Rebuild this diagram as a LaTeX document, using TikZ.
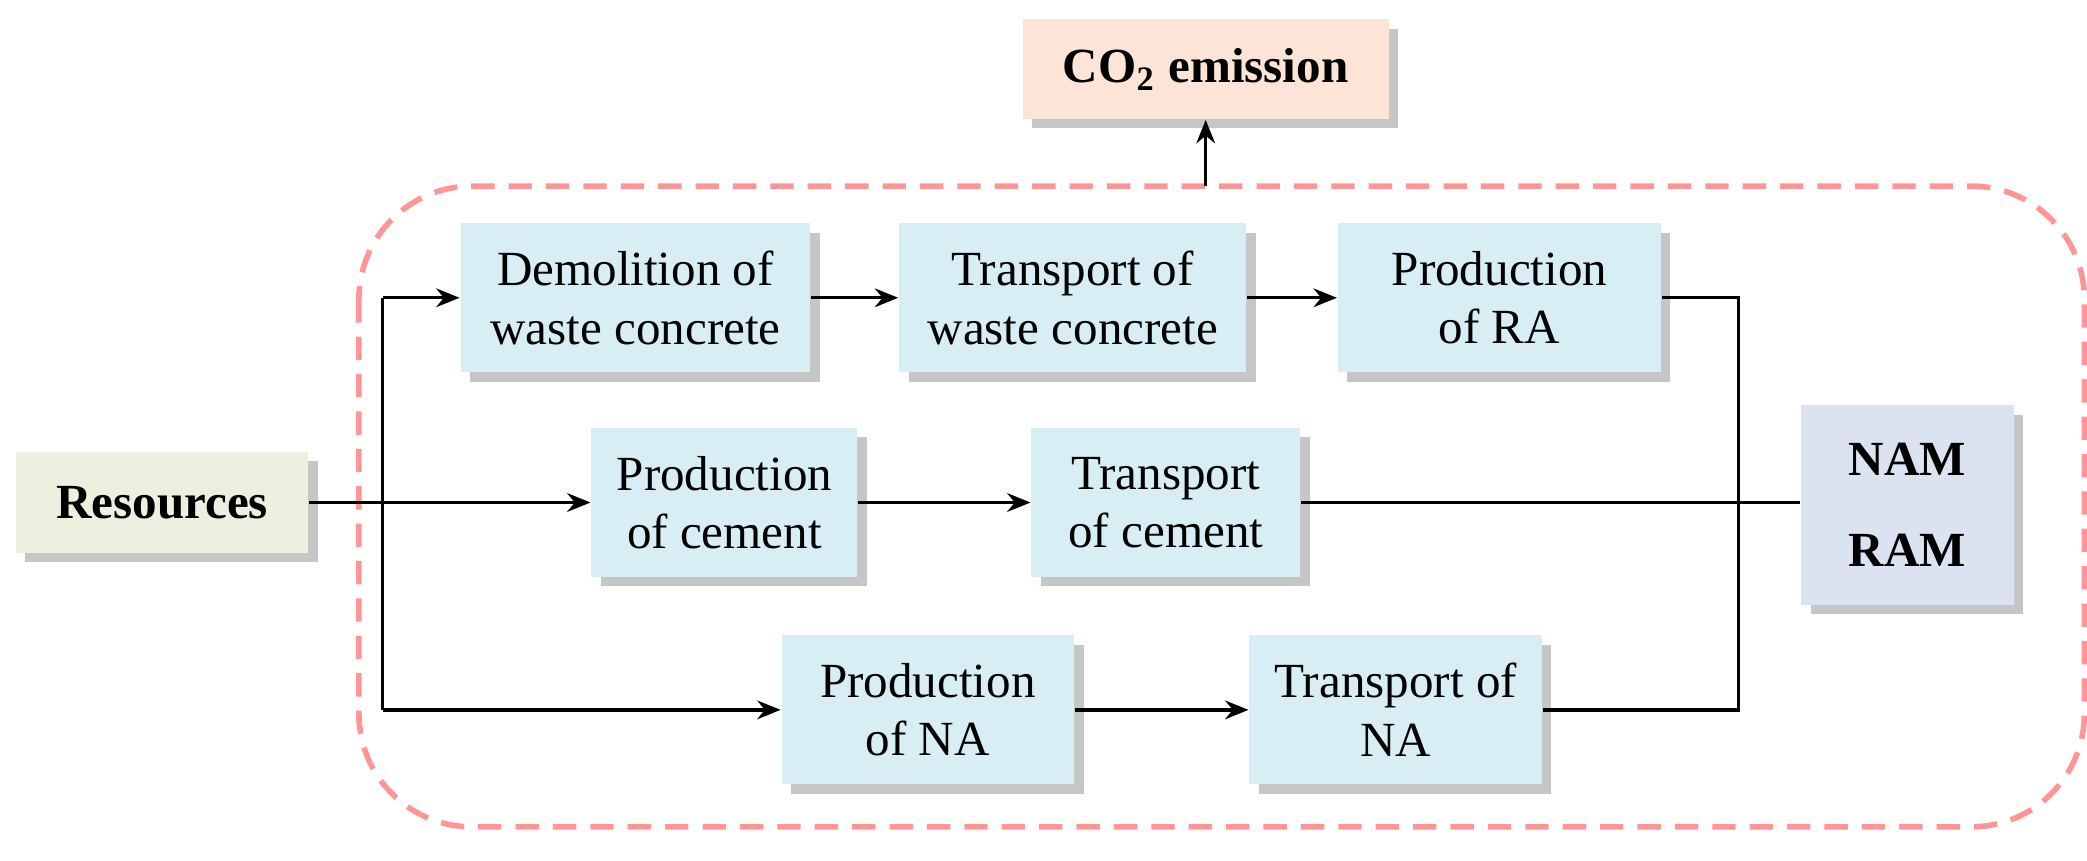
\documentclass[tikz,border=0pt]{standalone}
\usepackage{fontspec}
\setmainfont{Liberation Serif}
\usetikzlibrary{shadows,arrows.meta}
\definecolor{boxc}{HTML}{D6EEF4}
\definecolor{resc}{HTML}{EBF1DE}
\definecolor{namc}{HTML}{DAE3EF}
\definecolor{coc}{HTML}{FCE4D6}
\definecolor{dashc}{HTML}{FF9595}
\begin{document}
\begin{tikzpicture}[x=0.01cm,y=-0.01cm,
  box/.style={draw=none,fill=boxc,align=center,inner sep=0pt,
    font=\fontsize{10.5}{12.5}\selectfont,
    drop shadow={shadow xshift=2pt,shadow yshift=-2pt,fill=gray,opacity=0.45}},
  arr/.style={-{Stealth[length=5pt,width=4pt]},line width=0.7pt},
  ln/.style={line width=0.7pt}]
\useasboundingbox (0,0) rectangle (1570,647);
\draw[dashc,line width=1.2pt,dash pattern=on 5pt off 3pt,rounded corners=0.85cm] (270,140) rectangle (1568,622);
\node[box,fill=coc,minimum width=2.75cm,minimum height=0.75cm,font=\fontsize{10.5}{12.5}\selectfont\bfseries] (co) at (907,52) {CO\textsubscript{2} emission};
\node[box,minimum width=2.63cm,minimum height=1.12cm] (dem) at (478,224) {Demolition of\\waste concrete};
\node[box,minimum width=2.61cm,minimum height=1.12cm] (twc) at (807,224) {Transport of\\waste concrete};
\node[box,minimum width=2.43cm,minimum height=1.12cm] (pra) at (1128,224) {Production\\of RA};
\node[box,minimum width=2.0cm,minimum height=1.12cm] (pce) at (545,378) {Production\\of cement};
\node[box,minimum width=2.02cm,minimum height=1.12cm] (tce) at (877,378) {Transport\\of cement};
\node[box,minimum width=2.2cm,minimum height=1.12cm] (pna) at (698,534) {Production\\of NA};
\node[box,minimum width=2.2cm,minimum height=1.12cm] (tna) at (1050,534) {Transport of\\NA};
\node[box,fill=resc,minimum width=2.2cm,minimum height=0.76cm,font=\fontsize{10.5}{12.5}\selectfont\bfseries] (res) at (122,378) {Resources};
\node[box,fill=namc,minimum width=1.6cm,minimum height=1.5cm,font=\fontsize{10.5}{12.5}\selectfont\bfseries] (nam) at (1435,380) {NAM\\[7pt]RAM};
\coordinate (top) at (907,140);
\coordinate (ta) at (288,224);
\coordinate (tb) at (288,534);
\coordinate (ra) at (1308,224);
\coordinate (rb) at (1308,534);
\draw[arr] (top) -- (co.south);
\draw[arr] (res.east) -- (pce.west);
\draw[ln] (ta) -- (tb);
\draw[arr] (ta) -- (dem.west);
\draw[arr] (tb) -- (pna.west);
\draw[arr] (dem) -- (twc);
\draw[arr] (twc) -- (pra);
\draw[arr] (pce) -- (tce);
\draw[arr] (pna) -- (tna);
\draw[ln] (pra.east) -- (ra) -- (rb) -- (tna.east);
\draw[ln] (tce.east) -- (tce.east -| nam.west);
\end{tikzpicture}
\end{document}
